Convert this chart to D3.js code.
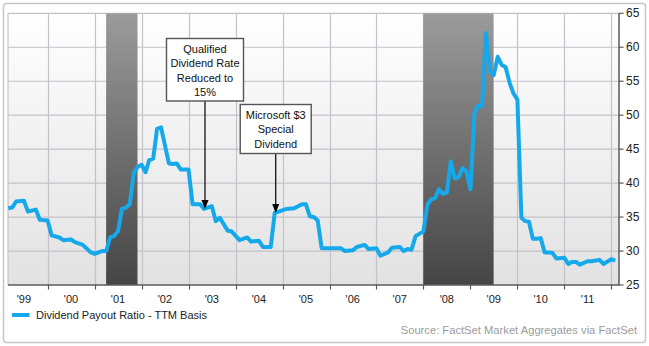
<!DOCTYPE html>
<html>
<head>
<meta charset="utf-8">
<script src="https://cdn.jsdelivr.net/npm/d3@7/dist/d3.min.js"></script>
<style>
  html, body { margin: 0; padding: 0; background: #ffffff; }
  svg { display: block; font-family: "Liberation Sans", Arial, sans-serif; }
</style>
</head>
<body>
<svg id="chart" width="649" height="346"></svg>
<script>
// Dividend payout ratio, trailing-twelve-month basis (monthly readings)
const months = [
  "1999-03","1999-04","1999-05","1999-07","1999-08","1999-10","1999-11",
  "2000-01","2000-02","2000-04","2000-05","2000-07","2000-08","2000-10","2000-12",
  "2001-01","2001-03","2001-04","2001-05","2001-06","2001-07","2001-08","2001-09","2001-10","2001-11","2001-12",
  "2002-01","2002-02","2002-03","2002-04","2002-05","2002-06","2002-08","2002-09","2002-10","2002-11",
  "2003-01","2003-02","2003-04","2003-05","2003-07","2003-08","2003-09","2003-11","2003-12",
  "2004-02","2004-04","2004-05","2004-07","2004-08","2004-10","2004-11","2004-12",
  "2005-02","2005-04","2005-06","2005-07","2005-08","2005-09","2005-10","2005-11",
  "2006-01","2006-04","2006-05","2006-07","2006-08","2006-10","2006-11",
  "2007-01","2007-02","2007-04","2007-05","2007-07","2007-08","2007-09","2007-10","2007-11",
  "2008-01","2008-02","2008-03","2008-04","2008-05","2008-06","2008-07","2008-08","2008-09","2008-10","2008-11","2008-12",
  "2009-01","2009-02","2009-03","2009-04","2009-05","2009-06","2009-07","2009-08","2009-09","2009-10","2009-11","2009-12",
  "2010-01","2010-02","2010-03","2010-04","2010-05","2010-06","2010-07","2010-08","2010-09","2010-10","2010-11",
  "2011-01","2011-02","2011-03","2011-04","2011-05","2011-07","2011-08","2011-10","2011-11",
  "2012-01","2012-02"
];
const payoutRatio = [
  36.3,36.4,37.3,37.4,35.8,36.1,34.6,
  34.5,32.3,32.0,31.6,31.7,31.3,30.9,29.8,
  29.6,30.0,30.0,32.0,32.2,32.9,36.2,36.4,36.9,41.5,42.4,
  42.7,41.6,43.4,43.6,48.0,48.2,42.9,42.8,42.9,42.0,
  42.0,36.9,36.9,36.2,36.6,34.4,34.9,33.0,32.9,
  31.6,32.0,31.4,31.5,30.6,30.6,35.6,35.8,
  36.2,36.3,36.9,36.9,35.1,35.0,34.5,30.4,
  30.4,30.4,30.0,30.1,30.6,30.9,30.3,
  30.4,29.3,29.8,30.5,30.6,30.0,30.3,30.2,32.2,
  32.9,36.8,37.6,37.8,39.1,38.4,38.6,43.2,40.7,40.9,42.2,41.7,
  39.1,50.3,51.4,51.3,62.1,56.4,55.9,58.6,57.4,57.1,54.8,53.2,
  52.3,34.9,34.4,34.3,31.8,31.8,31.9,29.8,29.8,29.7,28.9,
  29.0,28.1,28.4,28.4,28.0,28.5,28.5,28.7,28.1,
  28.8,28.6
];

// Recession periods (shaded)
const recessionStarts = ["2001-03-31", "2007-12-31"];
const recessionEnds   = ["2001-11-30", "2009-06-30"];

// Axis labels
const yTicks = [25, 30, 35, 40, 45, 50, 55, 60, 65];
const yearLabels = ["'99","'00","'01","'02","'03","'04","'05","'06","'07","'08","'09","'10","'11"];
const yearOfLabel = [1999,2000,2001,2002,2003,2004,2005,2006,2007,2008,2009,2010,2011];

// Callouts
const calloutMonths = ["2003-05", "2004-11"];
const calloutTexts = [
  ["Qualified", "Dividend Rate", "Reduced to", "15%"],
  ["Microsoft $3", "Special", "Dividend"]
];

const seriesName = "Dividend Payout Ratio - TTM Basis";
const sourceText = "Source: FactSet Market Aggregates via FactSet";

// ---- layout ----
const W = 649, H = 346;
const plot = { left: 8, top: 13.3, right: 619, bottom: 285 };

const parseMonth = d3.timeParse("%Y-%m");
const parseDay = d3.timeParse("%Y-%m-%d");
const data = months.map((m, i) => ({ date: parseMonth(m), value: payoutRatio[i] }));

const x = d3.scaleTime()
  .domain([parseDay("1999-02-27"), parseDay("2012-03-01")])
  .range([plot.left, plot.right]);
const y = d3.scaleLinear().domain([25, 65]).range([plot.bottom, plot.top]);

const svg = d3.select("#chart");
const defs = svg.append("defs");

const bgGrad = defs.append("linearGradient").attr("id", "plotBg")
  .attr("x1", 0).attr("y1", 0).attr("x2", 0).attr("y2", 1);
bgGrad.append("stop").attr("offset", "0%").attr("stop-color", "#ffffff");
bgGrad.append("stop").attr("offset", "100%").attr("stop-color", "#e2e2e2");

const recGrad = defs.append("linearGradient").attr("id", "recBg")
  .attr("gradientUnits", "userSpaceOnUse")
  .attr("x1", 0).attr("y1", plot.top).attr("x2", 0).attr("y2", plot.bottom);
recGrad.append("stop").attr("offset", "0%").attr("stop-color", "#9b9b9b");
recGrad.append("stop").attr("offset", "100%").attr("stop-color", "#454545");

// outer frame
svg.append("rect")
  .attr("x", 3.5).attr("y", 3.5).attr("width", W - 7).attr("height", H - 7)
  .attr("rx", 3).attr("fill", "#ffffff")
  .attr("stroke", "#c6c6c6").attr("stroke-width", 1.5);

// plot background
svg.append("rect")
  .attr("x", plot.left).attr("y", plot.top)
  .attr("width", plot.right - plot.left).attr("height", plot.bottom - plot.top)
  .attr("fill", "url(#plotBg)");

// grid
const gridColor = "#c3c2cb";
const yearTicks = x.ticks(d3.timeYear.every(1));
svg.append("g").selectAll("line").data(yearTicks).join("line")
  .attr("x1", d => Math.round(x(d)) + 0.5).attr("x2", d => Math.round(x(d)) + 0.5)
  .attr("y1", plot.top).attr("y2", plot.bottom)
  .attr("stroke", gridColor).attr("stroke-width", 1.2);
svg.append("g").selectAll("line").data(yTicks.filter(v => v > 25)).join("line")
  .attr("x1", plot.left).attr("x2", plot.right)
  .attr("y1", d => y(d)).attr("y2", d => y(d))
  .attr("stroke", gridColor).attr("stroke-width", 1.2);
// left border of plot
svg.append("line")
  .attr("x1", plot.left).attr("x2", plot.left).attr("y1", plot.top).attr("y2", plot.bottom)
  .attr("stroke", gridColor).attr("stroke-width", 1.2);

// recession shading
svg.append("g").selectAll("rect").data(recessionStarts).join("rect")
  .attr("x", d => x(parseDay(d)))
  .attr("width", (d, i) => x(parseDay(recessionEnds[i])) - x(parseDay(d)))
  .attr("y", plot.top).attr("height", plot.bottom - plot.top)
  .attr("fill", "url(#recBg)");

// series line
const line = d3.line().x(d => x(d.date)).y(d => y(d.value));
svg.append("path").datum(data)
  .attr("d", line)
  .attr("fill", "none")
  .attr("stroke", "#15a9ec")
  .attr("stroke-width", 4)
  .attr("stroke-linejoin", "round")
  .attr("stroke-linecap", "butt");

// callouts
const boxGeom = [
  { w: 77, top: 38.5, h: 62.5, lineStart: 48.5, lineStep: 14.5 },
  { w: 71, top: 104.5, h: 49, lineStart: 114.5, lineStep: 14.5 }
];
calloutMonths.forEach((m, i) => {
  const pt = data.find(d => +d.date === +parseMonth(m));
  const cx = x(pt.date) + 1;
  const tipY = y(pt.value);
  const g = boxGeom[i];
  const grp = svg.append("g");
  grp.append("line")
    .attr("x1", cx).attr("x2", cx)
    .attr("y1", g.top + g.h).attr("y2", tipY - 6)
    .attr("stroke", "#000").attr("stroke-width", 1.2);
  grp.append("path")
    .attr("d", `M${cx - 3.5},${tipY - 9} L${cx + 3.5},${tipY - 9} L${cx},${tipY} Z`)
    .attr("fill", "#000");
  grp.append("rect")
    .attr("x", cx - g.w / 2).attr("y", g.top)
    .attr("width", g.w).attr("height", g.h)
    .attr("fill", "#ffffff").attr("stroke", "#555").attr("stroke-width", 1.4);
  grp.selectAll("text").data(calloutTexts[i]).join("text")
    .attr("x", cx)
    .attr("y", (d, k) => g.lineStart + k * g.lineStep)
    .attr("text-anchor", "middle").attr("dominant-baseline", "central")
    .attr("font-size", 11).attr("fill", "#111")
    .text(d => d);
});

// axes lines
const axisColor = "#5a5a5a";
svg.append("line")
  .attr("x1", plot.left).attr("x2", plot.right + 0.5)
  .attr("y1", plot.bottom).attr("y2", plot.bottom)
  .attr("stroke", axisColor).attr("stroke-width", 1.5);
svg.append("line")
  .attr("x1", plot.right).attr("x2", plot.right)
  .attr("y1", plot.top).attr("y2", plot.bottom)
  .attr("stroke", axisColor).attr("stroke-width", 1.5);

// x ticks and labels
svg.append("g").selectAll("line").data(yearTicks).join("line")
  .attr("x1", d => Math.round(x(d)) + 0.5).attr("x2", d => Math.round(x(d)) + 0.5)
  .attr("y1", plot.bottom).attr("y2", plot.bottom + 4.5)
  .attr("stroke", axisColor).attr("stroke-width", 1.2);
svg.append("g").selectAll("text").data(yearLabels).join("text")
  .attr("x", (d, i) => x(new Date(yearOfLabel[i], 6, 1)))
  .attr("y", 298.5)
  .attr("text-anchor", "middle").attr("dominant-baseline", "central")
  .attr("font-size", 11).attr("fill", "#222")
  .text(d => d);

// y ticks and labels (right side)
svg.append("g").selectAll("line").data(yTicks).join("line")
  .attr("x1", plot.right).attr("x2", plot.right + 4.5)
  .attr("y1", d => y(d)).attr("y2", d => y(d))
  .attr("stroke", axisColor).attr("stroke-width", 1.2);
svg.append("g").selectAll("text").data(yTicks).join("text")
  .attr("x", 626)
  .attr("y", d => y(d))
  .attr("dominant-baseline", "central")
  .attr("font-size", 12).attr("fill", "#222")
  .text(d => d);

// legend
svg.append("line")
  .attr("x1", 12).attr("x2", 29.5).attr("y1", 315).attr("y2", 315)
  .attr("stroke", "#15a9ec").attr("stroke-width", 4);
svg.append("text")
  .attr("x", 36).attr("y", 315)
  .attr("dominant-baseline", "central")
  .attr("font-size", 11).attr("fill", "#222")
  .text(seriesName);

// source note
svg.append("text")
  .attr("x", 637).attr("y", 329.5)
  .attr("text-anchor", "end").attr("dominant-baseline", "central")
  .attr("font-size", 11.2).attr("fill", "#9c9c9c")
  .text(sourceText);
</script>
</body>
</html>
